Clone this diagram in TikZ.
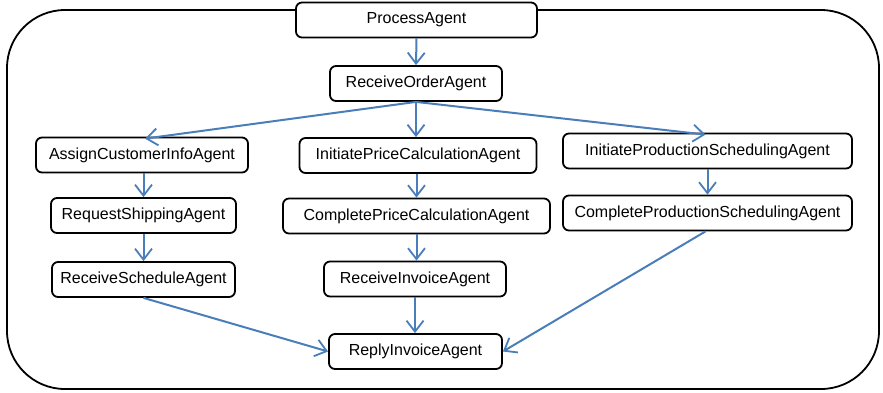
\documentclass[tikz,border=0pt]{standalone}
\usepackage{fontspec}
\setmainfont{Liberation Sans}
\usetikzlibrary{arrows.meta}
\definecolor{flowblue}{HTML}{4A7EBB}
\tikzset{
  agent/.style={draw=black, line width=1.8pt, rounded corners=6pt, fill=white,
    minimum height=35pt, inner sep=0pt, font=\fontsize{16}{18}\selectfont},
  flow/.style={draw=flowblue, line width=2pt,
    -{Straight Barb[length=11pt,width=17pt,line width=1.8pt]}},
  frame/.style={draw=black, line width=1.8pt, rounded corners=58pt}
}
\begin{document}
\begin{tikzpicture}[x=1pt, y=-1pt]
\useasboundingbox (0,0) rectangle (883,392);
% enclosing process boundary
\draw[frame] (7,10) rectangle (879,389);

% agents
\node[agent, minimum width=241pt] (pa)   at (416.5,20)  {ProcessAgent};
\node[agent, minimum width=172pt] (roa)  at (416,83.5)  {ReceiveOrderAgent};
\node[agent, minimum width=212pt] (aci)  at (142,155)   {AssignCustomerInfoAgent};
\node[agent, minimum width=237pt] (ipc)  at (418,155.5) {InitiatePriceCalculationAgent};
\node[agent, minimum width=289pt] (ips)  at (707.5,151) {InitiateProductionSchedulingAgent};
\node[agent, minimum width=185pt] (rsa)  at (143.5,215.5) {RequestShippingAgent};
\node[agent, minimum width=267pt] (cpc)  at (416.5,216) {CompletePriceCalculationAgent};
\node[agent, minimum width=289pt] (cps)  at (707.5,213) {CompleteProductionSchedulingAgent};
\node[agent, minimum width=183pt] (rsch) at (143.5,279.5) {ReceiveScheduleAgent};
\node[agent, minimum width=182pt] (ria)  at (415,279)   {ReceiveInvoiceAgent};
\node[agent, minimum width=173pt] (rpl)  at (415.5,351.5) {ReplyInvoiceAgent};

% control flow
\draw[flow] (pa.south) -- (roa.north);
\draw[flow] (roa.south) -- ([xshift=3pt,yshift=-2pt]aci.north);
\draw[flow] (roa.south) -- (roa.south |- ipc.north);
\draw[flow] (roa.south) -- ([xshift=-2pt,yshift=-2pt]ips.north);
\draw[flow] (aci.south -| rsa.north) -- (rsa.north);
\draw[flow] (rsa.south) -- (rsa.south |- rsch.north);
\draw[flow] (ipc.south -| cpc.north) -- (cpc.north);
\draw[flow] (cpc.south) -- (cpc.south |- ria.north);
\draw[flow] (ips.south) -- (cps.north);
\draw[flow] (ria.south) -- (ria.south |- rpl.north);
\draw[flow] (rsch.south) -- (rpl.west);
\draw[flow] ([xshift=-2pt]cps.south) -- (rpl.east);
\end{tikzpicture}
\end{document}
